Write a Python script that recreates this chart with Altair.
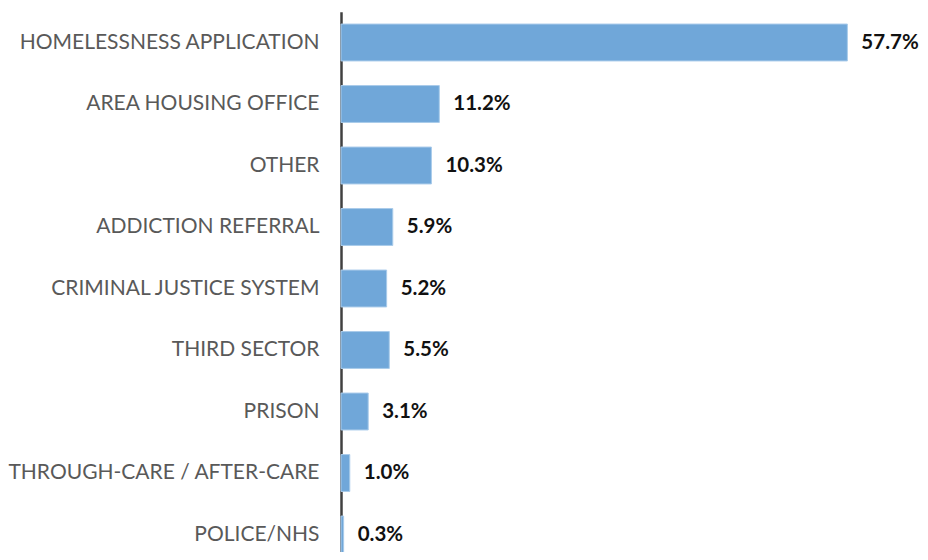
import altair as alt
import pandas as pd

categories = [
    "HOMELESSNESS APPLICATION",
    "AREA HOUSING OFFICE",
    "OTHER",
    "ADDICTION REFERRAL",
    "CRIMINAL JUSTICE SYSTEM",
    "THIRD SECTOR",
    "PRISON",
    "THROUGH-CARE / AFTER-CARE",
    "POLICE/NHS",
]
values = [57.7, 11.2, 10.3, 5.9, 5.2, 5.5, 3.1, 1.0, 0.3]

df = pd.DataFrame({"category": categories, "value": values})
df["label"] = [f"{v:.1f}%" for v in values]

FONT = "Lato"

y_enc = alt.Y(
    "category:N",
    sort=categories,
    title=None,
    scale=alt.Scale(range=[3.75, 557.25], paddingInner=0.4, paddingOuter=0.2),
    axis=alt.Axis(
        domain=True,
        domainColor="#404040",
        domainWidth=2.5,
        ticks=False,
        grid=False,
        labelFont=FONT,
        labelFontSize=21,
        labelColor="#595959",
        labelPadding=22,
        labelLimit=400,
    ),
)
x_enc = alt.X(
    "value:Q",
    title=None,
    scale=alt.Scale(domain=[0, 58], nice=False),
    axis=None,
)

bars = alt.Chart(df).mark_bar(
    color="#70A7D9", stroke="#A9CBEA", strokeWidth=1
).encode(y=y_enc, x=x_enc)

text = alt.Chart(df).mark_text(
    align="left", baseline="middle", dx=14, font=FONT, fontSize=20.5,
    fontWeight="bold", color="#111111"
).encode(y=alt.Y("category:N", sort=categories), x=alt.X("value:Q"), text="label:N")

chart = (
    alt.layer(bars, text)
    .properties(
        width=509,
        height=544,
        background="white",
        autosize=alt.AutoSizeParams(type="none"),
        padding={"left": 333, "top": 0, "right": 70, "bottom": 0},
    )
    .configure_view(strokeWidth=0, stroke=None)
)

chart.save("out.html", embed_options={"renderer": "svg", "actions": False})
